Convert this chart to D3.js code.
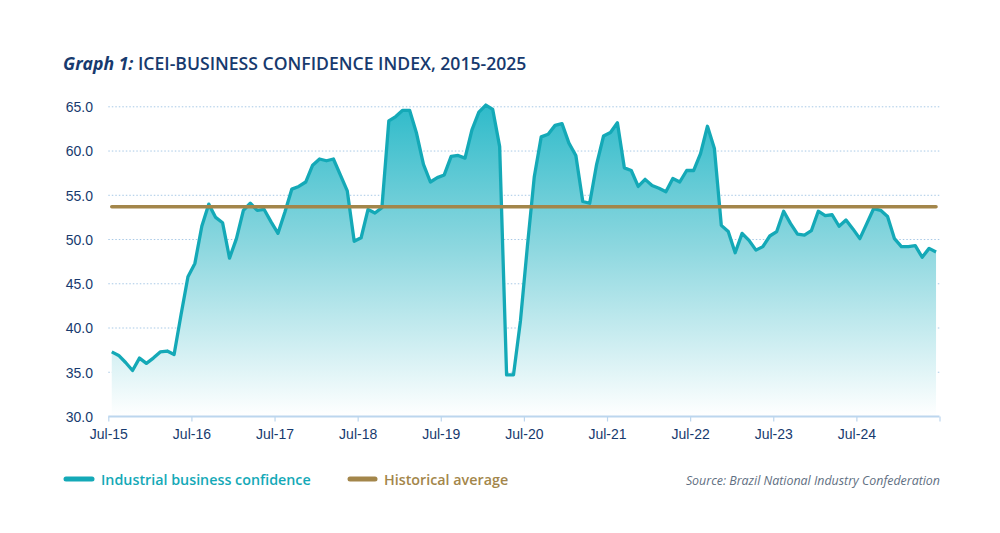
<!DOCTYPE html>
<html>
<head>
<meta charset="utf-8">
<script src="https://cdn.jsdelivr.net/npm/d3@7/dist/d3.min.js"></script>
<style>
  html, body { margin: 0; padding: 0; background: #ffffff; }
  svg { display: block; font-family: "Open Sans", "Noto Sans", sans-serif; }
</style>
</head>
<body>
<svg id="chart" width="1000" height="533"></svg>
<script>
// ---- Data (monthly, Jul-2015 .. Jun-2025) ----
const startMonth = "2015-07";
const confidence = [
  37.3, 36.9, 36.1, 35.2, 36.6, 36.0, 36.6, 37.3, 37.4, 37.0, 41.5, 45.8,
  47.3, 51.5, 54.0, 52.5, 51.9, 47.9, 50.1, 53.3, 54.1, 53.3, 53.4, 52.0,
  50.7, 53.1, 55.7, 56.0, 56.5, 58.4, 59.1, 58.9, 59.1, 57.3, 55.5, 49.8,
  50.2, 53.4, 53.0, 53.6, 63.4, 63.9, 64.6, 64.6, 62.0, 58.5, 56.5, 57.0,
  57.3, 59.4, 59.5, 59.2, 62.4, 64.4, 65.2, 64.7, 60.5, 34.7, 34.7, 40.8,
  49.2, 57.1, 61.6, 61.9, 62.9, 63.1, 60.9, 59.5, 54.3, 54.1, 58.5, 61.7,
  62.1, 63.2, 58.1, 57.8, 56.0, 56.8, 56.1, 55.8, 55.4, 56.9, 56.5, 57.8,
  57.8, 59.7, 62.8, 60.3, 51.6, 50.9, 48.5, 50.7, 49.9, 48.8, 49.2, 50.4,
  50.9, 53.2, 51.8, 50.6, 50.5, 51.0, 53.2, 52.7, 52.8, 51.5, 52.2, 51.2,
  50.1, 51.8, 53.5, 53.3, 52.6, 50.1, 49.2, 49.2, 49.3, 48.0, 49.0, 48.6
];
const historicalAverage = 53.7;
const xTickLabels = ["Jul-15","Jul-16","Jul-17","Jul-18","Jul-19","Jul-20","Jul-21","Jul-22","Jul-23","Jul-24",""];
const yTicks = [30, 35, 40, 45, 50, 55, 60, 65];
const titleBold = "Graph 1:";
const titleRest = " ICEI-BUSINESS CONFIDENCE INDEX, 2015-2025";
const legendLabels = ["Industrial business confidence", "Historical average"];
const sourceText = "Source: Brazil National Industry Confederation";

// ---- Colors ----
const lineColor = "#14a9b7";
const avgColor = "#a3864a";
const navy = "#173a6e";
const gridColor = "#a8c9e6";
const axisColor = "#bcd6ee";

const svg = d3.select("#chart");

const nMonths = confidence.length; // 120
const x = d3.scaleLinear().domain([0, nMonths]).range([108.3, 939.5]);
const y = d3.scaleLinear().domain([30, 65]).range([416.5, 106.8]);

// gradient
const defs = svg.append("defs");
const grad = defs.append("linearGradient")
  .attr("id", "fillGrad")
  .attr("gradientUnits", "userSpaceOnUse")
  .attr("x1", 0).attr("x2", 0)
  .attr("y1", y(65)).attr("y2", y(30));
grad.append("stop").attr("offset", "0%").attr("stop-color", "#30bbca");
grad.append("stop").attr("offset", "45%").attr("stop-color", "#8cd7df");
grad.append("stop").attr("offset", "100%").attr("stop-color", "#ffffff");

// gridlines (dotted)
svg.append("g")
  .selectAll("line")
  .data(yTicks.filter(v => v > 30))
  .join("line")
  .attr("x1", x(0)).attr("x2", x(nMonths))
  .attr("y1", d => y(d)).attr("y2", d => y(d))
  .attr("stroke", gridColor)
  .attr("stroke-width", 1)
  .attr("stroke-dasharray", "1.5,2");

// y axis labels
const yAxis = d3.axisLeft(y).tickValues(yTicks).tickFormat(d3.format(".1f")).tickSize(0).tickPadding(0);
const yg = svg.append("g").attr("transform", "translate(93,0)").call(yAxis);
yg.select(".domain").remove();
yg.selectAll("text")
  .attr("fill", navy)
  .style("font-size", "14px")
  .attr("dy", "0.35em");

// area + line
const pts = confidence.map((v, i) => ({ i: i + 0.5, v }));
const area = d3.area().x(d => x(d.i)).y0(y(30)).y1(d => y(d.v));
const line = d3.line().x(d => x(d.i)).y(d => y(d.v));

svg.append("path").datum(pts).attr("d", area).attr("fill", "url(#fillGrad)");

// x axis
const xAxis = d3.axisBottom(x)
  .tickValues(d3.range(0, nMonths + 1, 12))
  .tickFormat((d, i) => xTickLabels[i])
  .tickSize(5)
  .tickPadding(8);
const xg = svg.append("g").attr("transform", `translate(0,${y(30)})`).call(xAxis);
xg.select(".domain").attr("stroke", axisColor).attr("stroke-width", 2).attr("d", `M${x(0)},0H${x(nMonths)}`);
xg.selectAll(".tick line").attr("stroke", axisColor).attr("stroke-width", 1.2);
xg.selectAll("text").attr("fill", navy).style("font-size", "14px");

svg.append("path").datum(pts).attr("d", line)
  .attr("fill", "none")
  .attr("stroke", lineColor)
  .attr("stroke-width", 3.3)
  .attr("stroke-linejoin", "round");

// historical average
svg.append("line")
  .attr("x1", x(pts[0].i)).attr("x2", x(pts[pts.length - 1].i))
  .attr("y1", y(historicalAverage)).attr("y2", y(historicalAverage))
  .attr("stroke", avgColor)
  .attr("stroke-width", 3.5)
  .attr("stroke-linecap", "round");

// title
const title = svg.append("text").attr("x", 63).attr("y", 70)
  .attr("fill", navy).style("font-size", "17.6px");
title.append("tspan").text(titleBold).style("font-weight", 700).style("font-style", "italic");
title.append("tspan").text(titleRest).style("font-weight", 600);

// legend
const legend = svg.append("g");
const legendItems = [
  { label: legendLabels[0], color: lineColor, x1: 66, x2: 92, tx: 101 },
  { label: legendLabels[1], color: avgColor, x1: 350, x2: 375, tx: 384 }
];
legendItems.forEach(it => {
  legend.append("line")
    .attr("x1", it.x1).attr("x2", it.x2)
    .attr("y1", 479).attr("y2", 479)
    .attr("stroke", it.color)
    .attr("stroke-width", 5)
    .attr("stroke-linecap", "round");
  legend.append("text")
    .attr("x", it.tx).attr("y", 484.5)
    .attr("fill", it.color)
    .style("font-size", "14.3px")
    .style("font-weight", 600)
    .text(it.label);
});

// source
svg.append("text")
  .attr("x", 940).attr("y", 485)
  .attr("text-anchor", "end")
  .attr("fill", "#5f6f82")
  .style("font-size", "12.4px")
  .style("font-style", "italic")
  .text(sourceText);
</script>
</body>
</html>
